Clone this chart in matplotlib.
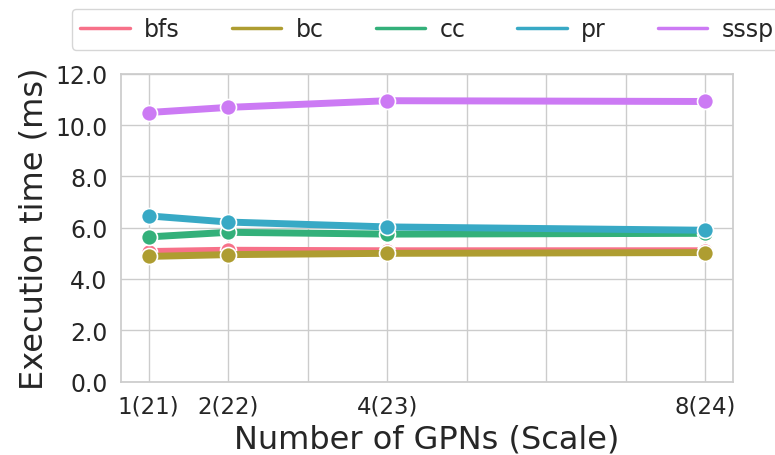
import matplotlib
matplotlib.use("Agg")
import matplotlib.pyplot as plt
import seaborn as sns
from matplotlib.lines import Line2D

# x positions (number of GPNs) and their scale labels
gpns = [1, 2, 4, 8]
gpn_labels = ["1(21)", "2(22)", "4(23)", "8(24)"]

# execution times in ms
bfs = [5.07, 5.12, 5.10, 5.10]
bc = [4.88, 4.95, 5.00, 5.03]
cc = [5.64, 5.82, 5.75, 5.78]
pr = [6.46, 6.22, 6.03, 5.90]
sssp = [10.49, 10.69, 10.95, 10.92]

series = {"bfs": bfs, "bc": bc, "cc": cc, "pr": pr, "sssp": sssp}

sns.set_theme(style="whitegrid")
plt.rcParams['font.family'] = ['DejaVu Sans']
colors = sns.color_palette("husl", len(series))

fig = plt.figure(figsize=(7.75, 4.56), dpi=100)
ax = fig.add_axes([0.156, 0.161, 0.79, 0.675])

handles = []
for (name, vals), c in zip(series.items(), colors):
    ax.plot(gpns, vals, color=c, lw=5, marker='o', markersize=11.5,
            markeredgecolor='white', markeredgewidth=1.2)
    handles.append(Line2D([0], [0], color=c, lw=2.5, label=name))

ax.set_ylim(0, 12)
ax.set_yticks(range(0, 13, 2))
ax.set_yticklabels([f"{v:.1f}" for v in range(0, 13, 2)], fontsize=17)

all_ticks = list(range(1, 9))
ax.set_xticks(all_ticks)
ax.set_xticklabels([gpn_labels[gpns.index(t)] if t in gpns else "" for t in all_ticks],
                   fontsize=16.5)

ax.set_xlabel("Number of GPNs (Scale)", fontsize=23)
ax.set_ylabel("Execution time (ms)", fontsize=23)

ax.legend(handles=handles, loc='upper center', bbox_to_anchor=(0.5, 1.212),
          borderaxespad=0, ncol=5, fontsize=17, handlelength=2.1,
          handletextpad=0.6, columnspacing=2.2, borderpad=0.37,
          frameon=True)

fig.savefig("out.png", dpi=100)
